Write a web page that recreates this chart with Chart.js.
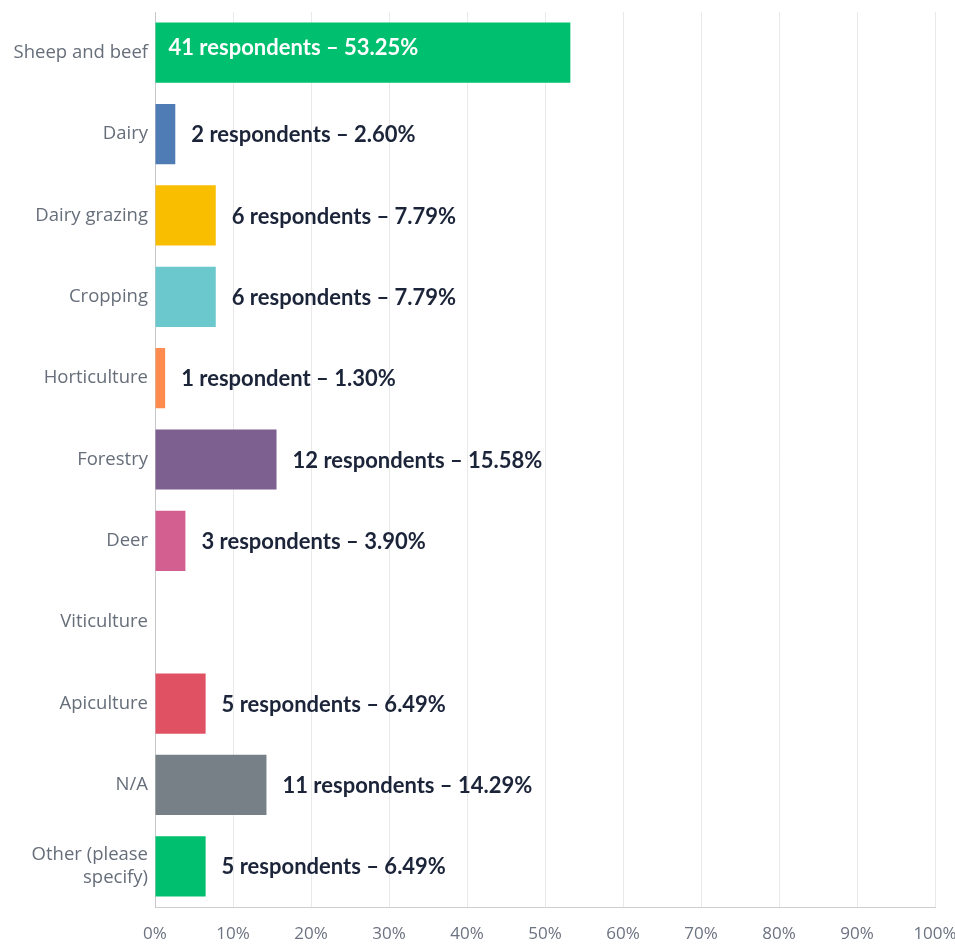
<!DOCTYPE html>
<html>
<head>
<meta charset="utf-8">
<script src="https://cdn.jsdelivr.net/npm/chart.js@4/dist/chart.umd.min.js"></script>
<style>
html,body{margin:0;padding:0;background:#fff;}
#wrap{width:955px;height:945px;position:relative;}
</style>
</head>
<body>
<div id="wrap"><canvas id="c" width="955" height="945"></canvas></div>
<script>
const categories = ["Sheep and beef","Dairy","Dairy grazing","Cropping","Horticulture","Forestry","Deer","Viticulture","Apiculture","N/A",["Other (please","specify)"]];
const percentValues = [53.25, 2.60, 7.79, 7.79, 1.30, 15.58, 3.90, 0, 6.49, 14.29, 6.49];
const respondentCounts = [41, 2, 6, 6, 1, 12, 3, 0, 5, 11, 5];
const barColors = ["#00bf6f","#507cb6","#f9be00","#6bc8cd","#ff8b4f","#7d5f90","#d25f90","#999999","#e05263","#768086","#00bf6f"];
const tickLabels = ["0%","10%","20%","30%","40%","50%","60%","70%","80%","90%","100%"];

const labelPlugin = {
  id: 'barLabels',
  afterDatasetsDraw(chart) {
    const ctx = chart.ctx;
    const meta = chart.getDatasetMeta(0);
    ctx.save();
    ctx.font = 'bold 22px Lato, "Open Sans", sans-serif';
    ctx.textBaseline = 'middle';
    meta.data.forEach((bar, i) => {
      const n = respondentCounts[i];
      if (!n) return;
      const txt = n + (n === 1 ? ' respondent' : ' respondents') + ' \u2013 ' + percentValues[i].toFixed(2) + '%';
      const w = ctx.measureText(txt).width;
      const inside = (bar.x - bar.base) > w + 30;
      ctx.textAlign = 'left';
      if (inside) {
        ctx.fillStyle = '#ffffff';
        ctx.fillText(txt, bar.base + 13, bar.y - 5);
      } else {
        ctx.fillStyle = '#1b2439';
        ctx.fillText(txt, bar.x + 16, bar.y + 1);
      }
    });
    ctx.restore();
  }
};

new Chart(document.getElementById('c'), {
  type: 'bar',
  data: {
    labels: categories,
    datasets: [{
      data: percentValues,
      backgroundColor: barColors,
      borderWidth: 0,
      barPercentage: 0.74,
      categoryPercentage: 1.0
    }]
  },
  options: {
    indexAxis: 'y',
    responsive: false,
    animation: false,
    layout: { padding: { top: 12, right: 20, bottom: 0, left: 0 } },
    plugins: { legend: { display: false }, tooltip: { enabled: false } },
    scales: {
      x: {
        min: 0, max: 100,
        afterBuildTicks(scale) {
          scale.ticks = tickLabels.map((t, i) => ({ value: i * 10 }));
        },
        afterFit(scale) {
          scale.height = 38;
          scale.paddingLeft = 0; scale.paddingRight = 0;
          scale.paddingTop = 0; scale.paddingBottom = 0;
        },
        ticks: {
          callback: (v, i) => tickLabels[i],
          color: '#6b7280',
          font: { family: '"Open Sans", sans-serif', size: 17 },
          padding: 17,
          maxRotation: 0
        },
        grid: { color: '#e9e9e9', drawTicks: false, lineWidth: 1 },
        border: { color: '#cfcfcf', width: 1 }
      },
      y: {
        afterFit(scale) {
          scale.width = 155;
          scale.paddingLeft = 0; scale.paddingRight = 0;
          scale.paddingTop = 0; scale.paddingBottom = 0;
        },
        ticks: {
          color: '#666e7a',
          font: { family: '"Open Sans", sans-serif', size: 18.5 },
          padding: 7
        },
        grid: { display: false, drawTicks: false },
        border: { color: '#c8c8c8', width: 1 }
      }
    }
  },
  plugins: [labelPlugin]
});
</script>
</body>
</html>
